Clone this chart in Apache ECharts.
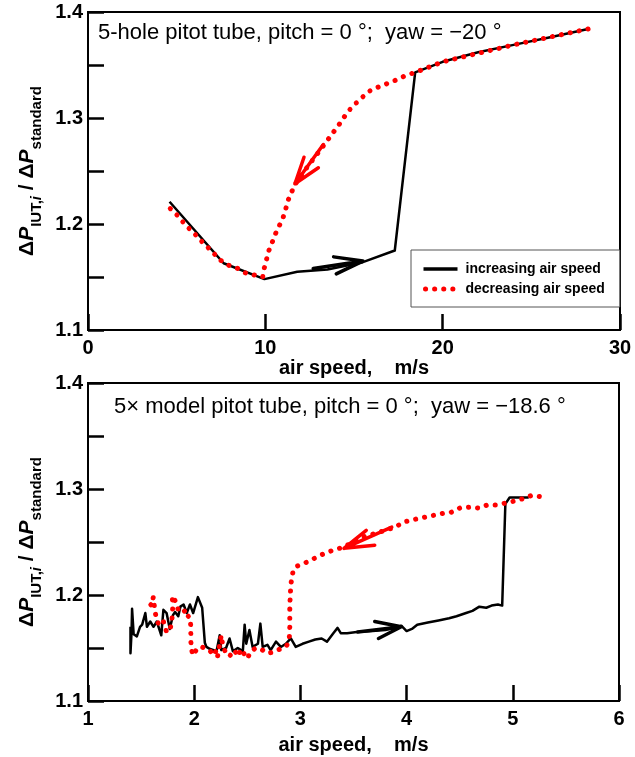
<!DOCTYPE html>
<html>
<head>
<meta charset="utf-8">
<script src="https://cdn.jsdelivr.net/npm/echarts@6/dist/echarts.min.js"></script>
<style>html,body{margin:0;padding:0;background:#fff;}#c{width:635px;height:757px;}</style>
</head>
<body>
<div id="c"></div>
<script>
// ---------- data ----------
const topIncSpeed = [4.6, 7.65, 9.95, 11.8, 13.5, 15.5, 17.3, 18.45, 20.0, 22.0, 24.0, 26.0, 28.2];
const topIncRatio = [1.221, 1.163, 1.148, 1.155, 1.157, 1.164, 1.175, 1.343, 1.353, 1.362, 1.369, 1.376, 1.384];

const topDecSpeed = [28.2, 24.0, 20.0, 18.45, 17.9, 17.4, 16.95, 16.5, 16.0, 15.5, 15.05, 14.6, 14.3, 13.9, 13.55, 13.15, 12.7, 12.2, 11.7, 11.45, 11.25, 11.15, 11.0, 10.75, 10.55, 10.35, 10.15, 10.05, 9.9, 9.85, 9.35, 8.85, 8.45, 7.95, 7.45, 7.0, 6.5, 6.0, 5.5, 5.05, 4.55];
const topDecRatio = [1.384, 1.369, 1.353, 1.343, 1.340, 1.336, 1.333, 1.330, 1.327, 1.320, 1.313, 1.305, 1.297, 1.288, 1.280, 1.271, 1.261, 1.250, 1.238, 1.229, 1.221, 1.214, 1.206, 1.197, 1.190, 1.181, 1.173, 1.165, 1.156, 1.150, 1.152, 1.154, 1.158, 1.161, 1.166, 1.174, 1.182, 1.191, 1.199, 1.208, 1.216];

const botIncSpeed = [1.40, 1.40, 1.41, 1.415, 1.43, 1.46, 1.49, 1.51, 1.54, 1.555, 1.586, 1.617, 1.648, 1.664, 1.69, 1.71, 1.74, 1.77, 1.80, 1.82, 1.85, 1.87, 1.90, 1.93, 1.96, 1.99, 2.035, 2.075, 2.10, 2.115, 2.15, 2.21, 2.24, 2.255, 2.30, 2.333, 2.364, 2.41, 2.458, 2.475, 2.49, 2.52, 2.55, 2.60, 2.623, 2.645, 2.69, 2.72, 2.77, 2.816, 2.863, 2.91, 2.956, 3.02, 3.08, 3.14, 3.20, 3.25, 3.31, 3.35, 3.38, 3.44, 3.53, 3.68, 3.80, 3.90, 3.95, 4.00, 4.05, 4.10, 4.20, 4.30, 4.40, 4.47, 4.56, 4.62, 4.685, 4.75, 4.80, 4.86, 4.90, 4.93, 4.97, 5.05, 5.15];
const botIncRatio = [1.170, 1.145, 1.165, 1.187, 1.163, 1.161, 1.170, 1.172, 1.183, 1.170, 1.175, 1.170, 1.175, 1.175, 1.162, 1.186, 1.183, 1.168, 1.181, 1.184, 1.180, 1.189, 1.191, 1.183, 1.191, 1.183, 1.198, 1.188, 1.155, 1.151, 1.149, 1.147, 1.162, 1.148, 1.150, 1.159, 1.147, 1.150, 1.147, 1.172, 1.154, 1.167, 1.151, 1.154, 1.173, 1.151, 1.153, 1.148, 1.156, 1.151, 1.154, 1.159, 1.151, 1.154, 1.156, 1.158, 1.159, 1.156, 1.164, 1.169, 1.164, 1.164, 1.165, 1.166, 1.167, 1.169, 1.171, 1.166, 1.168, 1.172, 1.174, 1.176, 1.178, 1.180, 1.183, 1.185, 1.189, 1.188, 1.190, 1.191, 1.190, 1.286, 1.292, 1.292, 1.292];

const botDecSpeed = [5.25, 5.18, 5.10, 5.03, 4.95, 4.84, 4.76, 4.68, 4.60, 4.50, 4.42, 4.34, 4.20, 4.06, 3.98, 3.89, 3.80, 3.60, 3.40, 3.30, 3.20, 3.10, 3.02, 2.96, 2.93, 2.91, 2.90, 2.90, 2.895, 2.87, 2.83, 2.785, 2.74, 2.69, 2.63, 2.58, 2.535, 2.50, 2.44, 2.41, 2.38, 2.33, 2.29, 2.26, 2.255, 2.22, 2.21, 2.18, 2.146, 2.10, 2.07, 2.03, 1.99, 1.97, 1.968, 1.965, 1.944, 1.928, 1.88, 1.85, 1.825, 1.79, 1.80, 1.79, 1.77, 1.74, 1.71, 1.68, 1.65, 1.63, 1.615, 1.60, 1.57];
const botDecRatio = [1.293, 1.294, 1.291, 1.289, 1.287, 1.285, 1.285, 1.282, 1.283, 1.282, 1.278, 1.277, 1.274, 1.271, 1.269, 1.264, 1.261, 1.255, 1.245, 1.242, 1.238, 1.233, 1.229, 1.227, 1.222, 1.210, 1.190, 1.170, 1.158, 1.152, 1.150, 1.148, 1.146, 1.145, 1.149, 1.150, 1.147, 1.140, 1.149, 1.142, 1.148, 1.142, 1.147, 1.157, 1.162, 1.142, 1.148, 1.143, 1.148, 1.150, 1.151, 1.150, 1.143, 1.150, 1.165, 1.178, 1.180, 1.186, 1.183, 1.186, 1.194, 1.199, 1.192, 1.176, 1.166, 1.165, 1.175, 1.171, 1.175, 1.185, 1.198, 1.190, 1.193];

// direction arrows (data units)
const arrowTopIncX = [12.7, 15.5, 13.85, 15.5, 14.0];
const arrowTopIncY = [1.158, 1.165, 1.169, 1.165, 1.153];
const arrowTopDecX = [13.27, 11.67, 12.18, 11.67, 12.99];
const arrowTopDecY = [1.275, 1.238, 1.263, 1.238, 1.253];
const arrowBotIncX = [3.54, 3.95, 3.70, 3.95, 3.735];
const arrowBotIncY = [1.165, 1.170, 1.175, 1.170, 1.159];
const arrowBotDecX = [3.86, 3.41, 3.62, 3.41, 3.70];
const arrowBotDecY = [1.264, 1.244, 1.261, 1.244, 1.247];

const seriesNames = ['increasing air speed', 'decreasing air speed'];
const titles = ['5-hole pitot tube, pitch = 0 \u00b0;  yaw = \u221220 \u00b0',
                '5\u00d7 model pitot tube, pitch = 0 \u00b0;  yaw = \u221218.6 \u00b0'];
const xName = 'air speed,    m/s';

// ---------- chart ----------
const FONT = '"Liberation Sans", Arial, sans-serif';
const zip = (a, b) => a.map((v, i) => [v, b[i]]);
const DOTS = [0.1, 9];

function xAxisCfg(gi, min, max, interval, gap) {
  return {
    type: 'value', gridIndex: gi, min: min, max: max, interval: interval,
    axisLine: {show: true, lineStyle: {color: '#000', width: 2}},
    axisTick: {show: true, inside: true, length: 16, lineStyle: {color: '#000', width: 2.5}},
    axisLabel: {margin: 8, fontSize: 20, fontWeight: 'bold', color: '#000', fontFamily: FONT},
    splitLine: {show: false},
    name: xName, nameLocation: 'middle', nameGap: gap,
    nameTextStyle: {fontSize: 20, fontWeight: 'bold', color: '#000', fontFamily: FONT}
  };
}
const yRich = {
  a: {fontSize: 21, fontWeight: 'bold', color: '#000', fontFamily: FONT},
  b: {fontSize: 21, fontWeight: 'bold', fontStyle: 'italic', color: '#000', fontFamily: FONT},
  c: {fontSize: 15, fontWeight: 'bold', color: '#000', fontFamily: FONT, padding: [18, 0, 0, 0]},
  d: {fontSize: 15, fontWeight: 'bold', fontStyle: 'italic', color: '#000', fontFamily: FONT, padding: [18, 0, 0, 0]}
};
function yAxisCfg(gi) {
  return {
    type: 'value', gridIndex: gi, min: 1.1, max: 1.4, interval: 0.05,
    axisLine: {show: true, lineStyle: {color: '#000', width: 2}},
    axisTick: {show: true, inside: true, length: 16, lineStyle: {color: '#000', width: 2.5}},
    axisLabel: {
      margin: 5, fontSize: 20, fontWeight: 'bold', color: '#000', fontFamily: FONT,
      formatter: v => Math.abs(v * 10 - Math.round(v * 10)) < 1e-6 ? v.toFixed(1) : ''
    },
    splitLine: {show: false},
    name: '{a|\u0394}{b|P}{c|IUT,}{d|i}{a| / \u0394}{b|P}{c|standard}',
    nameLocation: 'middle', nameRotate: 90, nameGap: 44,
    nameTextStyle: {rich: yRich, fontFamily: FONT}
  };
}
function incSeries(xi, data) {
  return {name: seriesNames[0], type: 'line', xAxisIndex: xi, yAxisIndex: xi, data: data,
    symbol: 'none', lineStyle: {color: '#000', width: 2.5, join: 'round'}, itemStyle: {color: '#000'}, z: 2};
}
function decSeries(xi, data) {
  return {name: seriesNames[1], type: 'line', xAxisIndex: xi, yAxisIndex: xi, data: data,
    symbol: 'none', lineStyle: {color: '#ff0000', width: 5, type: DOTS, cap: 'round'},
    itemStyle: {color: '#ff0000'}, z: 3};
}
function arrowSeries(xi, data, color) {
  return {type: 'line', xAxisIndex: xi, yAxisIndex: xi, data: data, symbol: 'none', silent: true,
    lineStyle: {color: color, width: 3.5, cap: 'round', join: 'round'}, z: 4};
}

const chart = echarts.init(document.getElementById('c'), null, {renderer: 'canvas'});
chart.setOption({
  animation: false,
  backgroundColor: '#fff',
  title: [
    {text: titles[0], left: 98, top: 21, padding: 0,
     textStyle: {fontSize: 22, fontWeight: 'normal', color: '#000', fontFamily: FONT, lineHeight: 24}},
    {text: titles[1], left: 114, top: 395, padding: 0,
     textStyle: {fontSize: 22, fontWeight: 'normal', color: '#000', fontFamily: FONT, lineHeight: 24}}
  ],
  legend: {
    data: [
      {name: seriesNames[0], lineStyle: {color: '#000', width: 3.5, type: 'solid'}},
      {name: seriesNames[1], lineStyle: {color: '#ff0000', width: 5, type: DOTS, cap: 'round', dashOffset: -2}}
    ],
    left: 411, top: 250, orient: 'vertical',
    padding: [12, 15, 11, 10], itemGap: 6, itemWidth: 34, itemHeight: 14,
    borderColor: '#555', borderWidth: 1, backgroundColor: '#fff',
    itemStyle: {color: 'rgba(0,0,0,0)', borderWidth: 0, opacity: 0},
    textStyle: {fontSize: 14, fontWeight: 'bold', color: '#000', fontFamily: FONT, lineHeight: 14, padding: [0, 0, 0, 3]}
  },
  grid: [
    {left: 88, top: 12, width: 532, height: 318, show: true, borderColor: '#000', borderWidth: 2},
    {left: 88, top: 383, width: 531, height: 318, show: true, borderColor: '#000', borderWidth: 2}
  ],
  xAxis: [xAxisCfg(0, 0, 30, 10, 27), xAxisCfg(1, 1, 6, 1, 34)],
  yAxis: [yAxisCfg(0), yAxisCfg(1)],
  series: [
    incSeries(0, zip(topIncSpeed, topIncRatio)),
    decSeries(0, zip(topDecSpeed, topDecRatio)),
    arrowSeries(0, zip(arrowTopIncX, arrowTopIncY), '#000'),
    arrowSeries(0, zip(arrowTopDecX, arrowTopDecY), '#ff0000'),
    incSeries(1, zip(botIncSpeed, botIncRatio)),
    decSeries(1, zip(botDecSpeed, botDecRatio)),
    arrowSeries(1, zip(arrowBotIncX, arrowBotIncY), '#000'),
    arrowSeries(1, zip(arrowBotDecX, arrowBotDecY), '#ff0000')
  ]
});
</script>
</body>
</html>
